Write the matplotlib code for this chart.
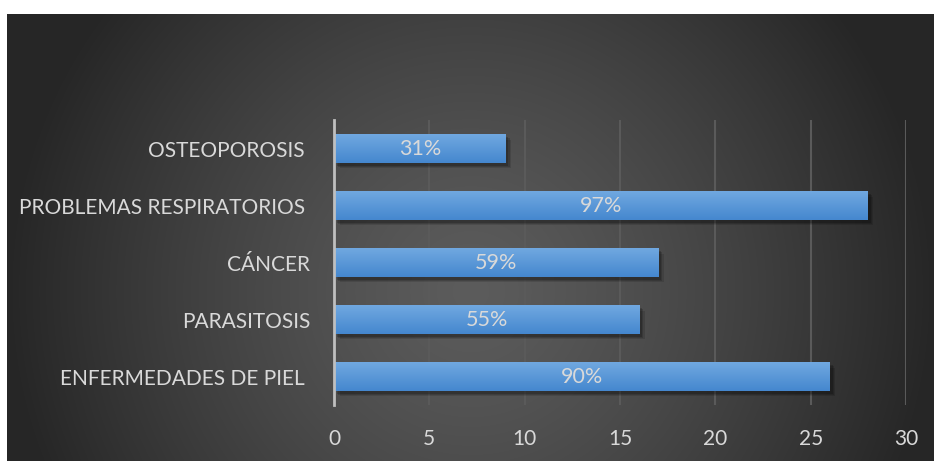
"""
Horizontal bar chart: enfermedades (count with % labels)
"""
import matplotlib.pyplot as plt
import matplotlib.patheffects as pe
import numpy as np

# data (bottom to top)
categories = ["ENFERMEDADES DE PIEL ", "PARASITOSIS", "CÁNCER",
              "PROBLEMAS RESPIRATORIOS ", "OSTEOPOROSIS "]
values = [26, 16, 17, 28, 9]
pct_labels = ["90%", "55%", "59%", "97%", "31%"]
xticks = [0, 5, 10, 15, 20, 25, 30]

plt.rcParams["font.family"] = ["Lato", "DejaVu Sans"]
text_col = "#d9d9d9"

W, H = 934, 461
fig = plt.figure(figsize=(W / 100, H / 100), dpi=100)
fig.patch.set_facecolor("white")

# dark radial background
bg = fig.add_axes([7 / W, 0, (W - 7) / W, (H - 14) / H])
bw, bh = W - 7, H - 14
yy, xx = np.mgrid[0:bh, 0:bw]
r = np.hypot(xx - bw * 0.5, (yy - bh * 0.62) * 1.0) / (bw * 0.5)
r = np.clip(r, 0, 1)
c0, c1 = np.array([0.36, 0.36, 0.36]), np.array([0.15, 0.15, 0.15])
img = c0[None, None, :] + (c1 - c0)[None, None, :] * (r[..., None] ** 1.3)
bg.imshow(img, aspect="auto", interpolation="bilinear")
bg.axis("off")

ax = fig.add_axes([334 / W, 1 - 405 / H, (906 - 334) / W, (405 - 120) / H])
ax.patch.set_alpha(0)
ypos = np.arange(len(categories))
bars = ax.barh(ypos, values, height=0.5, color="#5b9bd5", zorder=3)

grad = np.linspace(0, 1, 100)[:, None]
top, bot = np.array([0.44, 0.66, 0.88]), np.array([0.27, 0.53, 0.81])
gimg = top[None, None, :] + (bot - top)[None, None, :] * grad[..., None]
for b in bars:
    # soft drop shadow
    b.set_path_effects([
        pe.SimplePatchShadow(offset=(4, -4), shadow_rgbFace="black", alpha=0.12),
        pe.SimplePatchShadow(offset=(3, -3), shadow_rgbFace="black", alpha=0.15),
        pe.SimplePatchShadow(offset=(2, -2), shadow_rgbFace="black", alpha=0.18),
        pe.Normal()])
    x0, y0, w, h = b.get_x(), b.get_y(), b.get_width(), b.get_height()
    im = ax.imshow(gimg, extent=[x0, x0 + w, y0, y0 + h], aspect="auto",
                   zorder=4, interpolation="bilinear")
    im.set_clip_path(b)

for y, v, lab in zip(ypos, values, pct_labels):
    ax.text(v / 2, y, lab, ha="center", va="center", color=text_col,
            fontsize=15.5, zorder=5)

ax.set_xlim(0, 30)
ax.set_ylim(-0.5, len(categories) - 0.5)
ax.set_xticks(xticks)
ax.set_yticks(ypos)
ax.set_yticklabels(categories)
ax.xaxis.grid(True, color="#5a5a5a", linewidth=1.5, zorder=0)
ax.set_axisbelow(True)
for s in ["top", "right", "bottom"]:
    ax.spines[s].set_visible(False)
ax.spines["left"].set_color("#bfbfbf")
ax.spines["left"].set_linewidth(2)
ax.spines["left"].set_zorder(6)
ax.tick_params(axis="both", length=0, colors=text_col, labelsize=15)
ax.tick_params(axis="y", pad=17)
ax.tick_params(axis="x", pad=17)

fig.savefig("out.png", dpi=100)
